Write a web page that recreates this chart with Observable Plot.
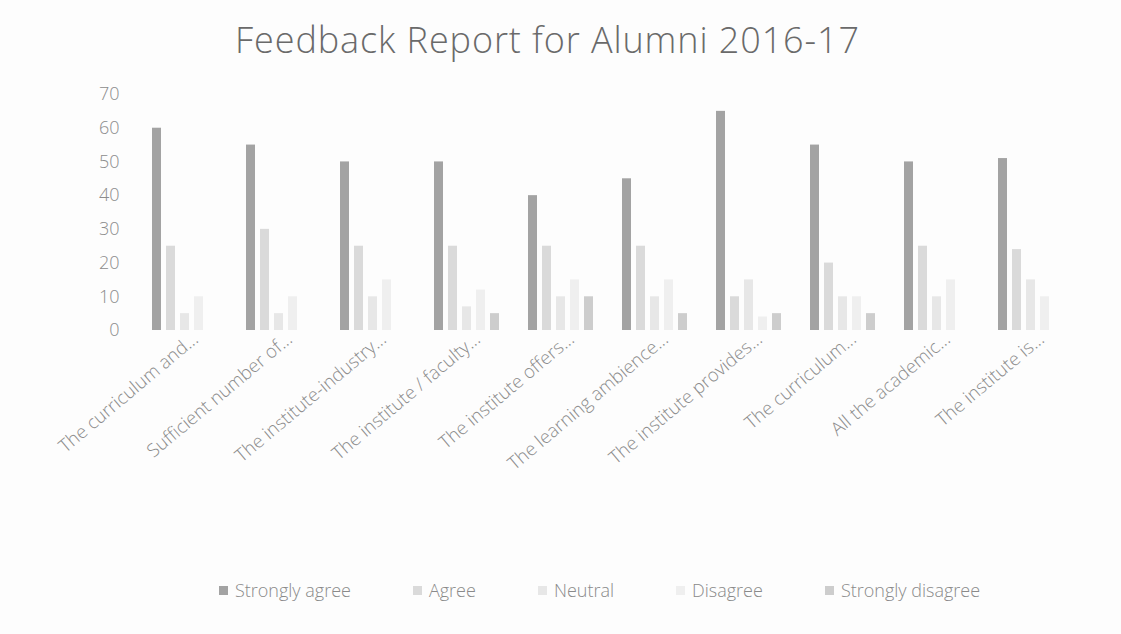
<!DOCTYPE html>
<html>
<head>
<meta charset="utf-8">
<script src="https://cdn.jsdelivr.net/npm/d3@7"></script>
<script src="https://cdn.jsdelivr.net/npm/@observablehq/plot@0.6"></script>
<style>
  html, body { margin: 0; padding: 0; background: #fdfdfd; }
  #wrap { width: 1121px; height: 634px; position: relative; font-family: "Open Sans", sans-serif; }
  #title { height: 70px; text-align: center; font-size: 36px; font-weight: 300; color: #6a6a6a; line-height: 80px; letter-spacing: 0.9px; padding-right: 26px; }
  #legend { display: flex; justify-content: center; align-items: center; gap: 62px; font-size: 18px; font-weight: 300; color: #8a8a8a; padding-top: 28px; padding-left: 78px; }
  #legend .item { display: flex; align-items: center; gap: 7px; }
  #legend .sw { width: 9px; height: 9px; display: inline-block; }
</style>
</head>
<body>
<div id="wrap">
  <div id="title">Feedback Report for Alumni 2016-17</div>
  <div id="chart"></div>
  <div id="legend"></div>
</div>
<script>
const categories = [
  "The curriculum and...",
  "Sufficient number of...",
  "The institute-industry...",
  "The institute / faculty...",
  "The institute offers...",
  "The learning ambience...",
  "The institute provides...",
  "The curriculum...",
  "All the academic...",
  "The institute is..."
];
const seriesNames = ["Strongly agree", "Agree", "Neutral", "Disagree", "Strongly disagree"];
const stronglyAgree    = [60, 55, 50, 50, 40, 45, 65, 55, 50, 51];
const agree            = [25, 30, 25, 25, 25, 25, 10, 20, 25, 24];
const neutral          = [5, 5, 10, 7, 10, 10, 15, 10, 10, 15];
const disagree         = [10, 10, 15, 12, 15, 15, 4, 10, 15, 10];
const stronglyDisagree = [0, 0, 0, 5, 10, 5, 5, 5, 0, 0];
const yTicks = [0, 10, 20, 30, 40, 50, 60, 70];
const seriesColors = ["#a3a3a3", "#dadada", "#e7e7e7", "#efefef", "#cdcdcd"];

const seriesValues = [stronglyAgree, agree, neutral, disagree, stronglyDisagree];
const data = [];
categories.forEach((c, i) => {
  seriesNames.forEach((s, j) => data.push({category: c, series: s, value: seriesValues[j][i]}));
});

const chart = Plot.plot({
  width: 1121,
  height: 480,
  marginTop: 24,
  marginBottom: 220,
  marginLeft: 132,
  marginRight: 37,
  style: {fontFamily: "Open Sans, sans-serif", fontSize: "18px", color: "#8c8c8c", background: "transparent", fontWeight: 300},
  fx: {domain: categories, paddingInner: 0.148, paddingOuter: 0.1, label: null, axis: null},
  x: {domain: seriesNames, padding: 1/3, axis: null},
  y: {domain: [0, 70], ticks: yTicks, tickSize: 0, tickPadding: 26, label: null, fontSize: 19},
  color: {domain: seriesNames, range: seriesColors},
  marks: [
    Plot.axisFx({anchor: "bottom", tickRotate: -40, tickSize: 0, tickPadding: 6, dx: 10, label: null, fontSize: 18.5}),
    Plot.barY(data, {fx: "category", x: "series", y: "value", fill: "series"})
  ]
});
document.getElementById("chart").appendChild(chart);

const legend = document.getElementById("legend");
seriesNames.forEach((s, j) => {
  const item = document.createElement("div");
  item.className = "item";
  const sw = document.createElement("span");
  sw.className = "sw";
  sw.style.background = seriesColors[j];
  const t = document.createElement("span");
  t.textContent = s;
  item.appendChild(sw);
  item.appendChild(t);
  legend.appendChild(item);
});
</script>
</body>
</html>
